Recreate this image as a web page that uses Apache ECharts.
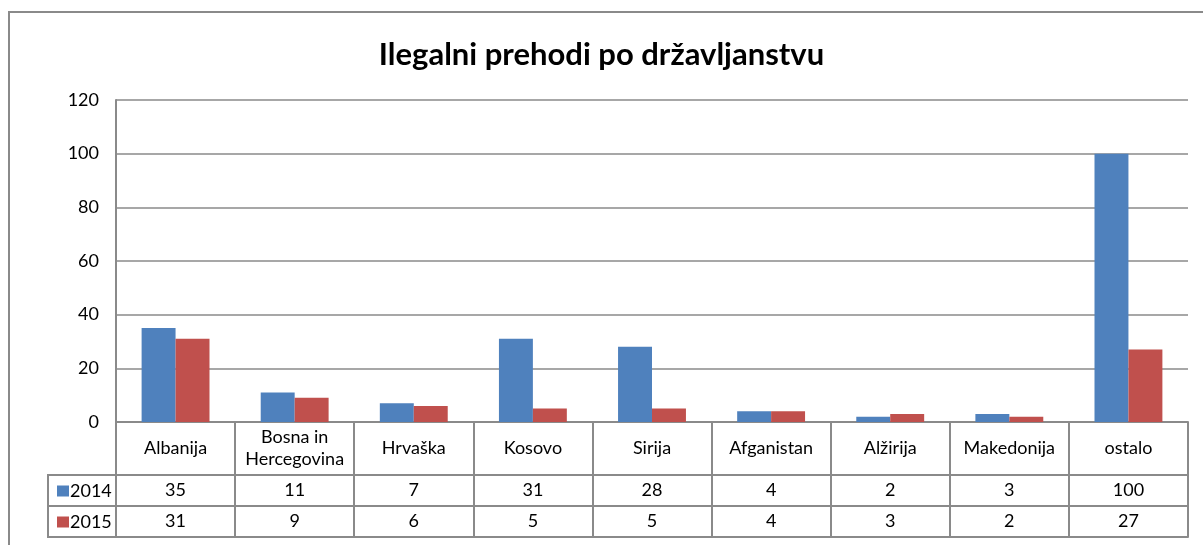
<!DOCTYPE html>
<html>
<head>
<meta charset="utf-8">
<title>Ilegalni prehodi po državljanstvu</title>
<script src="https://cdn.jsdelivr.net/npm/echarts@6/dist/echarts.min.js"></script>
<style>
  html, body { margin: 0; padding: 0; background: #fff; }
  #chart { width: 1203px; height: 545px; }
</style>
</head>
<body>
<div id="chart"></div>
<script>
// podatki
const categories = ['Albanija', 'Bosna in\nHercegovina', 'Hrvaška', 'Kosovo', 'Sirija', 'Afganistan', 'Alžirija', 'Makedonija', 'ostalo'];
const seriesNames = ['2014', '2015'];
const values2014 = [35, 11, 7, 31, 28, 4, 2, 3, 100];
const values2015 = [31, 9, 6, 5, 5, 4, 3, 2, 27];
const yTicks = { min: 0, max: 120, interval: 20 };

const FONT = 'Lato';
const LINE = '#8a8a8a';
const colors = ['#4f81bd', '#c0504d'];

// vrstice tabele pod grafom (razmik od osi)
const rowCat = 53, rowVal = 31;

const tableAxis = (data, offset, tickLen, showLabel) => ({
  type: 'category',
  data: data,
  position: 'bottom',
  offset: offset,
  axisLine: { show: true, lineStyle: { color: LINE, width: 2 } },
  axisTick: { show: tickLen > 0, alignWithLabel: false, interval: 0, length: tickLen, lineStyle: { color: LINE, width: 2 } },
  axisLabel: {
    show: showLabel,
    interval: 0,
    margin: tickLen / 2,
    verticalAlign: 'middle',
    fontFamily: FONT,
    fontSize: 18,
    lineHeight: 22,
    color: '#000'
  },
  splitLine: { show: false }
});

const chart = echarts.init(document.getElementById('chart'));
chart.setOption({
  animation: false,
  title: {
    text: 'Ilegalni prehodi po državljanstvu',
    left: 'center',
    top: 34,
    textStyle: { fontFamily: FONT, fontSize: 31, fontWeight: 'bold', color: '#000' }
  },
  legend: seriesNames.map((name, i) => ({
    data: [name],
    left: 52,
    top: 477 + i * rowVal,
    icon: 'rect',
    itemWidth: 12,
    itemHeight: 11,
    textStyle: { fontFamily: FONT, fontSize: 18, color: '#000', padding: [0, 0, 0, -4] },
    selectedMode: false
  })),
  grid: { left: 116, right: 15, top: 100, bottom: 123, containLabel: false },
  xAxis: [
    tableAxis(categories, 0, rowCat, true),
    tableAxis(values2014.map(String), rowCat, rowVal, true),
    tableAxis(values2015.map(String), rowCat + rowVal, rowVal, true),
    tableAxis(categories, rowCat + 2 * rowVal, 0, false)
  ],
  yAxis: {
    type: 'value',
    min: yTicks.min,
    max: yTicks.max,
    interval: yTicks.interval,
    axisLine: { show: true, lineStyle: { color: LINE, width: 2 } },
    axisTick: { show: false },
    axisLabel: { margin: 17, fontFamily: FONT, fontSize: 18, color: '#000' },
    splitLine: { lineStyle: { color: LINE, width: 1.5 } }
  },
  series: [
    { name: '2014', type: 'bar', data: values2014, itemStyle: { color: colors[0] }, barGap: '0%', barCategoryGap: '43%' },
    { name: '2015', type: 'bar', data: values2015, itemStyle: { color: colors[1] } }
  ],
  graphic: [
    // okvir grafa
    { type: 'rect', shape: { x: 9, y: 12, width: 1220, height: 560 }, style: { fill: 'none', stroke: LINE, lineWidth: 2 }, silent: true },
    // stolpec legende v tabeli
    { type: 'polyline', shape: { points: [[116, 475], [48, 475], [48, 537], [116, 537]] }, style: { fill: 'none', stroke: LINE, lineWidth: 2 }, silent: true },
    { type: 'line', shape: { x1: 48, y1: 506, x2: 116, y2: 506 }, style: { stroke: LINE, lineWidth: 2 }, silent: true }
  ]
});
</script>
</body>
</html>
